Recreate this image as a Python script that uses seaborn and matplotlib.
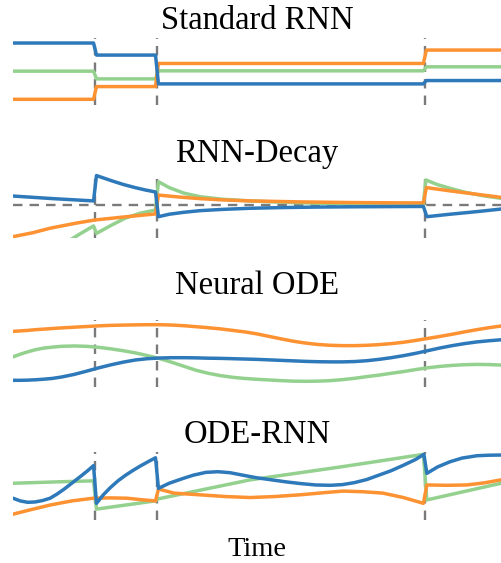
import numpy as np
import pandas as pd
import matplotlib
matplotlib.use("Agg")
import matplotlib.pyplot as plt
import seaborn as sns

# times of the three observations (dashed lines), time axis runs 0..100
obs_times = [16.8, 29.5, 84.4]

# Standard RNN: state held constant between observations
rnn_blue = [0.85, 0.49, -0.37, -0.27]
rnn_green = [0.01, -0.22, 0.02, 0.14]
rnn_orange = [-0.83, -0.45, 0.24, 0.64]

# RNN-Decay
decay_blue_t = [0, 8.2, 16.5, 17.1, 20, 22.5, 25, 27, 29.2, 29.8, 32, 35, 38.3, 43, 48.6, 55, 62, 70, 77, 84.1,
                84.8, 87, 89.5, 93, 96.3, 100]
decay_blue_v = [0.29, 0.21, 0.14, 0.92, 0.77, 0.65, 0.55, 0.48, 0.415, -0.345, -0.27, -0.21, -0.16, -0.12, -0.086,
                -0.065, -0.05, -0.04, -0.035, -0.03, -0.345, -0.31, -0.27, -0.22, -0.17, -0.11]
decay_orange_t = [0, 4, 7.6, 12.7, 16.8, 23, 29.2, 29.8, 34, 38.3, 43, 48.6, 58.8, 69, 79.3, 84.1,
                  84.7, 89.5, 96.3, 100]
decay_orange_v = [-0.96, -0.84, -0.70, -0.55, -0.446, -0.35, -0.26, 0.32, 0.26, 0.21, 0.17, 0.14, 0.11, 0.09,
                  0.08, 0.08, 0.55, 0.45, 0.32, 0.25]
decay_green_t = [0, 5.5, 11.7, 14, 16.5, 17.1, 20, 23, 26, 29.2, 29.8, 32, 35, 38.3, 43, 48.6, 55, 62, 70, 84.1,
                 84.6, 87, 89.5, 92.5, 96.3, 100]
decay_green_v = [-2.2, -1.7, -1.06, -0.85, -0.63, -0.86, -0.62, -0.39, -0.24, -0.14, 0.73, 0.55, 0.38, 0.27,
                 0.19, 0.14, 0.10, 0.07, 0.05, 0.04, 0.785, 0.64, 0.53, 0.41, 0.30, 0.22]

# Neural ODE
node_t = [0, 1.5, 3, 4.5, 6, 8, 10, 12.5, 15, 17.5, 20, 22.5, 25, 27.5, 30, 32.5, 35, 37.5, 40, 42.5, 45, 47.5,
          50, 52.5, 55, 57.5, 60, 62.5, 65, 67.5, 70, 72.5, 75, 77.5, 80, 82.5, 85, 87.5, 90, 92.5, 95, 97.5, 100]
node_orange = [0.66, 0.675, 0.69, 0.71, 0.725, 0.745, 0.765, 0.785, 0.805, 0.825, 0.84, 0.848, 0.855, 0.86, 0.86,
               0.85, 0.83, 0.80, 0.77, 0.735, 0.69, 0.645, 0.585, 0.51, 0.435, 0.365, 0.31, 0.27, 0.245, 0.235,
               0.235, 0.245, 0.265, 0.295, 0.335, 0.39, 0.45, 0.51, 0.575, 0.645, 0.71, 0.77, 0.82]
node_blue = [-0.80, -0.80, -0.795, -0.785, -0.77, -0.745, -0.70, -0.625, -0.53, -0.43, -0.34, -0.26, -0.195,
             -0.155, -0.135, -0.125, -0.125, -0.13, -0.14, -0.145, -0.155, -0.165, -0.175, -0.19, -0.205, -0.22,
             -0.235, -0.245, -0.25, -0.25, -0.24, -0.215, -0.175, -0.125, -0.065, 0.005, 0.085, 0.165, 0.235,
             0.295, 0.345, 0.38, 0.41]
node_green = [-0.10, -0.02, 0.05, 0.11, 0.155, 0.19, 0.215, 0.225, 0.215, 0.185, 0.14, 0.085, 0.02, -0.06, -0.15,
              -0.26, -0.38, -0.50, -0.59, -0.66, -0.71, -0.745, -0.77, -0.79, -0.81, -0.825, -0.83, -0.825, -0.81,
              -0.78, -0.74, -0.69, -0.645, -0.59, -0.54, -0.48, -0.425, -0.385, -0.355, -0.335, -0.325, -0.33,
              -0.345]

# ODE-RNN
odernn_blue_t = [0, 1.5, 3, 4.5, 6, 7.6, 9, 10.5, 12.3, 14, 15.3, 16.5,
                 17.1, 18.5, 20, 21.5, 23, 24.5, 26, 27.5, 29.2,
                 29.8, 32, 34.8, 37, 39.5, 42, 44.5, 47, 50, 53, 56, 59, 62, 65, 67.5, 70, 72.5, 75, 77.5, 80,
                 82.5, 84.2,
                 84.8, 87, 89.5, 92, 95.1, 97.5, 100]
odernn_blue_v = [-0.36, -0.44, -0.48, -0.47, -0.43, -0.36, -0.24, -0.09, 0.11, 0.30, 0.45, 0.60,
                 -0.51, -0.26, -0.04, 0.15, 0.31, 0.45, 0.58, 0.70, 0.83,
                 -0.07, 0.08, 0.22, 0.32, 0.40, 0.42, 0.39, 0.32, 0.24, 0.18, 0.12, 0.07, 0.03, 0.02, 0.04, 0.10,
                 0.19, 0.32, 0.45, 0.61, 0.78, 0.93,
                 0.37, 0.56, 0.71, 0.82, 0.89, 0.905, 0.91]
odernn_orange_t = [0, 3, 7.6, 12, 16.4, 20, 23.4, 26, 29.2, 29.8, 33, 38.3, 43.5, 48.6, 53.7, 58.8, 63.5, 67.6,
                   71.8, 75.8, 80, 84.1, 84.8, 89, 93, 96.5, 100]
odernn_orange_v = [-0.83, -0.72, -0.56, -0.44, -0.36, -0.35, -0.36, -0.40, -0.44, -0.09, -0.21, -0.26, -0.31,
                   -0.34, -0.31, -0.26, -0.20, -0.15, -0.17, -0.21, -0.34, -0.51, 0.03, 0.02, 0.03, 0.09, 0.18]
odernn_green_t = [0, 11.1, 16.5, 17.1, 29.1, 29.7, 48.6, 67.6, 84.1, 84.8, 100]
odernn_green_v = [0.08, 0.13, 0.15, -0.68, -0.44, -0.38, 0.18, 0.57, 0.93, -0.41, 0.08]

titles = ["Standard RNN", "RNN-Decay", "Neural ODE", "ODE-RNN"]
colors = {"green": "#94d18f", "orange": "#fd9232", "blue": "#2e79b9"}


def step_line(levels, jump=0.3):
    # constant segments joined by short ramps at the observations
    t = [0.0]
    for o in obs_times:
        t += [o - jump, o + jump]
    t.append(100.0)
    return t, list(np.repeat(levels, 2))


def frame(series):
    parts = []
    for name, (t, v) in series.items():
        parts.append(pd.DataFrame({"t": t, "v": v, "s": name}))
    return pd.concat(parts, ignore_index=True)


panels = [
    frame({"green": step_line(rnn_green), "orange": step_line(rnn_orange), "blue": step_line(rnn_blue)}),
    frame({"green": (decay_green_t, decay_green_v), "orange": (decay_orange_t, decay_orange_v),
           "blue": (decay_blue_t, decay_blue_v)}),
    frame({"green": (node_t, node_green), "orange": (node_t, node_orange), "blue": (node_t, node_blue)}),
    frame({"green": (odernn_green_t, odernn_green_v), "orange": (odernn_orange_t, odernn_orange_v),
           "blue": (odernn_blue_t, odernn_blue_v)}),
]

sns.set_theme(style="white")
plt.rcParams["font.family"] = ["Liberation Serif", "DejaVu Serif"]
plt.rcParams["text.color"] = "black"
plt.rcParams["axes.labelcolor"] = "black"

fig = plt.figure(figsize=(5.01, 5.63), dpi=100)
# axes boxes (left, bottom, width, height) in figure fractions
boxes = [(0.026, 0.8135, 0.974, 0.119),
         (0.026, 0.5773, 0.974, 0.1155),
         (0.026, 0.3126, 0.974, 0.119),
         (0.026, 0.0764, 0.974, 0.1208)]
title_pads = [6.3, 8.1, 18.5, 6.3]
dash = (0, (4, 3))

for i, df in enumerate(panels):
    ax = fig.add_axes(boxes[i])
    for o in obs_times:
        ax.axvline(o, color="#7a7a7a", lw=1.7, ls=dash, zorder=1)
    if i == 1:
        ax.axhline(0, color="#7a7a7a", lw=1.7, ls=dash, zorder=1)
    sns.lineplot(data=df, x="t", y="v", hue="s", palette=colors, hue_order=["green", "orange", "blue"],
                 sort=False, estimator=None, lw=2.5, legend=False, ax=ax)
    ax.set_xlim(0, 100)
    ax.set_ylim(-1, 1)
    ax.set_xticks([])
    ax.set_yticks([])
    ax.set_ylabel("")
    ax.set_xlabel("")
    sns.despine(ax=ax, left=True, bottom=True)
    ax.set_title(titles[i], fontsize=23.5, pad=title_pads[i], color="black")
    if i == 3:
        ax.set_xlabel("Time", fontsize=20.5, labelpad=12, color="black")

fig.savefig("out.png", dpi=100)
